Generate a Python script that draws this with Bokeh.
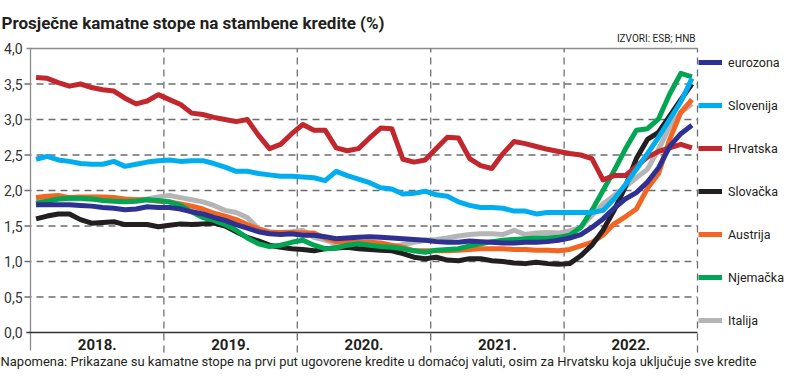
from bokeh.plotting import figure
from bokeh.models import Range1d, Legend, LegendItem, Label
from bokeh.core.properties import value
from bokeh.embed import file_html
from bokeh.resources import INLINE

# ---------------- data ----------------
start_year = 2018
years = [2018, 2019, 2020, 2021, 2022]
year_labels = ["2018.", "2019.", "2020.", "2021.", "2022."]
y_ticks = [0.0, 0.5, 1.0, 1.5, 2.0, 2.5, 3.0, 3.5, 4.0]
y_tick_labels = ["0,0", "0,5", "1,0", "1,5", "2,0", "2,5", "3,0", "3,5", "4,0"]

eurozona = [1.80, 1.80, 1.80, 1.80, 1.79, 1.78, 1.76, 1.75, 1.73, 1.74, 1.77, 1.76,
            1.76, 1.74, 1.70, 1.67, 1.62, 1.58, 1.52, 1.47, 1.42, 1.39, 1.38, 1.39,
            1.37, 1.37, 1.35, 1.32, 1.33, 1.34, 1.35, 1.34, 1.33, 1.32, 1.31, 1.30,
            1.28, 1.27, 1.27, 1.29, 1.28, 1.27, 1.26, 1.26, 1.27, 1.27, 1.28, 1.30,
            1.33, 1.38, 1.48, 1.60, 1.75, 1.88, 1.97, 2.12, 2.32, 2.62, 2.80, 2.92]
slovenija = [2.44, 2.48, 2.43, 2.41, 2.38, 2.37, 2.37, 2.41, 2.34, 2.37, 2.40, 2.42,
             2.43, 2.41, 2.42, 2.42, 2.38, 2.33, 2.27, 2.27, 2.24, 2.22, 2.20, 2.20,
             2.19, 2.18, 2.14, 2.27, 2.21, 2.16, 2.11, 2.04, 2.02, 1.95, 1.96, 1.99,
             1.94, 1.92, 1.84, 1.79, 1.76, 1.76, 1.75, 1.71, 1.71, 1.67, 1.69, 1.69,
             1.69, 1.69, 1.69, 1.72, 1.88, 2.08, 2.30, 2.52, 2.75, 3.00, 3.25, 3.58]
hrvatska = [3.59, 3.58, 3.52, 3.47, 3.50, 3.45, 3.42, 3.40, 3.30, 3.22, 3.26, 3.35,
            3.28, 3.21, 3.09, 3.07, 3.03, 3.00, 2.97, 3.00, 2.78, 2.59, 2.65, 2.80,
            2.93, 2.85, 2.85, 2.60, 2.56, 2.59, 2.74, 2.88, 2.87, 2.44, 2.40, 2.43,
            2.59, 2.75, 2.74, 2.45, 2.35, 2.31, 2.52, 2.69, 2.66, 2.62, 2.58, 2.55,
            2.52, 2.50, 2.45, 2.15, 2.21, 2.21, 2.34, 2.47, 2.55, 2.60, 2.65, 2.60]
slovacka = [1.60, 1.64, 1.67, 1.67, 1.59, 1.54, 1.55, 1.56, 1.52, 1.52, 1.52, 1.49,
            1.51, 1.53, 1.52, 1.53, 1.54, 1.50, 1.42, 1.34, 1.29, 1.23, 1.20, 1.18,
            1.17, 1.15, 1.18, 1.19, 1.20, 1.18, 1.17, 1.16, 1.15, 1.11, 1.06, 1.04,
            1.06, 1.02, 1.01, 1.04, 1.04, 1.01, 1.00, 0.98, 0.97, 0.99, 0.97, 0.96,
            0.97, 1.08, 1.23, 1.44, 1.72, 2.05, 2.45, 2.72, 2.82, 3.05, 3.28, 3.50]
austrija = [1.90, 1.92, 1.93, 1.90, 1.91, 1.91, 1.91, 1.90, 1.88, 1.87, 1.87, 1.85,
            1.84, 1.81, 1.78, 1.74, 1.68, 1.64, 1.59, 1.52, 1.46, 1.41, 1.41, 1.41,
            1.40, 1.40, 1.33, 1.28, 1.27, 1.27, 1.27, 1.26, 1.23, 1.20, 1.15, 1.15,
            1.15, 1.15, 1.16, 1.17, 1.18, 1.18, 1.18, 1.17, 1.17, 1.16, 1.16, 1.15,
            1.17, 1.22, 1.27, 1.37, 1.53, 1.63, 1.74, 2.03, 2.24, 2.72, 3.10, 3.28]
njemacka = [1.82, 1.85, 1.88, 1.89, 1.89, 1.88, 1.86, 1.85, 1.84, 1.85, 1.87, 1.86,
            1.84, 1.79, 1.70, 1.62, 1.58, 1.52, 1.44, 1.33, 1.25, 1.21, 1.23, 1.27,
            1.30, 1.23, 1.18, 1.19, 1.23, 1.25, 1.23, 1.21, 1.20, 1.18, 1.15, 1.13,
            1.16, 1.17, 1.18, 1.22, 1.25, 1.28, 1.30, 1.31, 1.32, 1.33, 1.33, 1.34,
            1.37, 1.48, 1.72, 2.00, 2.28, 2.58, 2.85, 2.87, 3.01, 3.36, 3.65, 3.60]
italija = [1.86, 1.87, 1.88, 1.88, 1.88, 1.88, 1.88, 1.88, 1.87, 1.87, 1.88, 1.91,
           1.93, 1.90, 1.87, 1.84, 1.79, 1.72, 1.69, 1.62, 1.46, 1.42, 1.41, 1.42,
           1.44, 1.34, 1.30, 1.25, 1.22, 1.20, 1.18, 1.19, 1.20, 1.24, 1.27, 1.30,
           1.31, 1.33, 1.36, 1.38, 1.39, 1.39, 1.38, 1.44, 1.38, 1.40, 1.41, 1.40,
           1.43, 1.48, 1.65, 1.81, 1.93, 2.05, 2.18, 2.30, 2.58, 2.90, 3.10, 3.22]

legend_names = ["eurozona", "Slovenija", "Hrvatska", "Slovačka", "Austrija", "Njemačka", "Italija"]
series = {"eurozona": eurozona, "Slovenija": slovenija, "Hrvatska": hrvatska,
          "Slovačka": slovacka, "Austrija": austrija, "Njemačka": njemacka, "Italija": italija}
colors = {"eurozona": "#2e3192", "Slovenija": "#00aeef", "Hrvatska": "#c1272d",
          "Slovačka": "#231f20", "Austrija": "#f26522", "Njemačka": "#00a651", "Italija": "#b5b5b5"}
draw_order = ["Italija", "Austrija", "Slovačka", "Njemačka", "Hrvatska", "Slovenija", "eurozona"]

title_text = "Prosječne kamatne stope na stambene kredite (%)"
source_text = "IZVORI: ESB; HNB"
note_text = ("Napomena: Prikazane su kamatne stope na prvi put ugovorene kredite u domaćoj valuti, "
             "osim za Hrvatsku koja uključuje sve kredite")

# month centres as decimal years
xs = [start_year + (i + 0.5) / 12 for i in range(len(eurozona))]

# ---------------- layout helpers (figure pixels -> data) ----------------
FONT = "Roboto"
W, H = 784, 369
PX_PER_YEAR = 133.4
PX_PER_UNIT = 71.0


def dx(px):
    return start_year + (px - 30) / PX_PER_YEAR


def dy(py):
    return (332 - py) / PX_PER_UNIT


p = figure(width=W, height=H, output_backend="svg", toolbar_location=None, title=None,
           x_axis_location=None, y_axis_location=None,
           x_range=Range1d(dx(0), dx(W)), y_range=Range1d(dy(H), dy(0)),
           min_border_left=0, min_border_right=0, min_border_top=0, min_border_bottom=0)
p.outline_line_color = None
p.xgrid.visible = False
p.ygrid.visible = False
p.background_fill_color = "white"

x_first, x_last = years[0], years[-1] + 1

# horizontal grid (dashed), top line solid, baseline solid
mid_ticks = [t for t in y_ticks if 0 < t < 4]
p.segment(x0=[dx(24)] * len(mid_ticks), x1=[x_last] * len(mid_ticks), y0=mid_ticks, y1=mid_ticks,
          line_color="#6d6e71", line_width=1.3, line_dash="7 5")
p.segment(x0=[dx(26)], x1=[x_last], y0=[y_ticks[-1]], y1=[y_ticks[-1]],
          line_color="#8c8c8c", line_width=1.3)
# vertical year dividers
bounds = years[1:] + [x_last]
p.segment(x0=bounds, x1=bounds, y0=[dy(352)] * len(bounds), y1=[y_ticks[-1]] * len(bounds),
          line_color="#6d6e71", line_width=1.3, line_dash="7 5")
p.segment(x0=[x_first], x1=[x_first], y0=[dy(350)], y1=[y_ticks[-1]], line_color="#8c8c8c", line_width=1.3)
p.segment(x0=[dx(26)], x1=[x_last], y0=[0], y1=[0], line_color="#333333", line_width=1.5)

# y tick labels
p.text(x=[dx(22)] * len(y_ticks), y=y_ticks, text=y_tick_labels, text_align="right",
       text_baseline="middle", text_font=value(FONT), text_font_size="14px", text_color="#333333")

renderers = {}
for name in draw_order:
    renderers[name] = p.line(x=xs, y=series[name], line_color=colors[name], line_width=5,
                             line_join="round")

# year labels
p.text(x=[y + 0.5 for y in years], y=[dy(344)] * len(years), text=year_labels,
       text_align="center", text_baseline="middle", text_font=value(FONT),
       text_font_style="bold", text_font_size="15px", text_color="#231f20")

# source
p.text(x=[dx(695)], y=[dy(38)], text=[source_text], text_align="right", text_baseline="middle",
       text_font=value(FONT), text_font_size="10px", text_color="#231f20")

legend = Legend(items=[LegendItem(label=n, renderers=[renderers[n]]) for n in legend_names],
                location=(698, 39), orientation="vertical", glyph_width=24, glyph_height=20,
                label_height=20, spacing=23, label_standoff=6, padding=0, margin=0,
                border_line_color=None, background_fill_alpha=0,
                label_text_font=FONT, label_text_font_size="12.5px", label_text_color="#231f20")
p.add_layout(legend)

p.add_layout(Label(x=dx(1), y=dy(22), text=title_text, text_font=FONT, text_font_style="bold",
                   text_font_size="17px", text_baseline="alphabetic", text_color="#231f20"))
p.add_layout(Label(x=dx(0), y=dy(361), text=note_text, text_font=FONT,
                   text_font_size="13px", text_baseline="alphabetic", text_color="#231f20"))

open("out.html", "w").write(file_html(p, INLINE))
